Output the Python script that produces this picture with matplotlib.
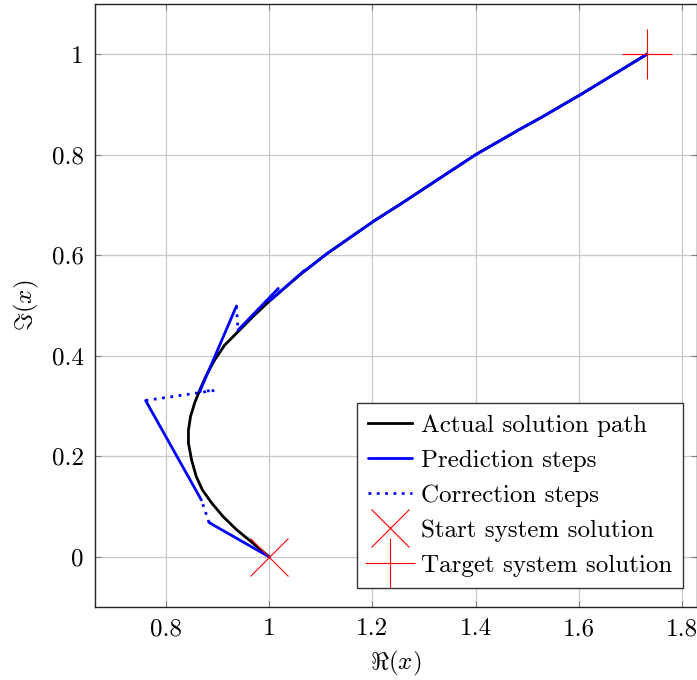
import matplotlib
matplotlib.use("Agg")
import matplotlib.pyplot as plt

plt.rcParams['font.family'] = ['cmr10', 'DejaVu Serif']
plt.rcParams['mathtext.fontset'] = 'cm'
plt.rcParams['axes.formatter.use_mathtext'] = True
plt.rcParams['font.size'] = 18

# actual solution path
path_re = [1.0, 0.969, 0.937, 0.911, 0.889, 0.871, 0.859, 0.850, 0.844, 0.844,
           0.848, 0.856, 0.866, 0.879, 0.895, 0.914, 0.940, 0.969, 1.0, 1.035,
           1.067, 1.112, 1.203, 1.255, 1.4, 1.488, 1.527, 1.604, 1.732]
path_im = [0.0, 0.027, 0.054, 0.080, 0.107, 0.133, 0.160, 0.193, 0.226, 0.252,
           0.279, 0.306, 0.332, 0.362, 0.392, 0.421, 0.448, 0.478, 0.508, 0.539,
           0.567, 0.603, 0.668, 0.702, 0.8, 0.852, 0.874, 0.920, 1.0]

# prediction steps: start point -> predicted point
pred_re0 = [1.0, 0.869, 0.866, 0.940, 1.002, 1.067, 1.112, 1.203, 1.255, 1.4, 1.488, 1.527, 1.604]
pred_im0 = [0.0, 0.113, 0.329, 0.451, 0.510, 0.567, 0.603, 0.668, 0.702, 0.8, 0.852, 0.874, 0.920]
pred_re1 = [0.884, 0.761, 0.937, 1.018, 1.069, 1.112, 1.203, 1.255, 1.4, 1.488, 1.527, 1.604, 1.732]
pred_im1 = [0.068, 0.311, 0.499, 0.534, 0.570, 0.603, 0.668, 0.702, 0.8, 0.852, 0.874, 0.920, 1.0]

# correction steps (polylines back onto the path)
corr_re = [[0.884, 0.869], [0.761, 0.895, 0.866], [0.937, 0.940],
           [1.018, 1.002], [1.069, 1.067]]
corr_im = [[0.068, 0.113], [0.311, 0.331, 0.329], [0.499, 0.451],
           [0.534, 0.510], [0.570, 0.567]]

start_pt = (1.0, 0.0)
target_pt = (1.732, 1.0)

fig = plt.figure(figsize=(6.97, 6.8), dpi=100)
ax = fig.add_axes([95 / 697, 73 / 680, 602 / 697, 603 / 680])

ax.plot(path_re, path_im, color='black', lw=2.0, label='Actual solution path', zorder=3)
for i in range(len(pred_re0)):
    ax.plot([pred_re0[i], pred_re1[i]], [pred_im0[i], pred_im1[i]], color='blue', lw=2.0,
            solid_capstyle='round', label='Prediction steps' if i == 0 else None, zorder=4)
for i in range(len(corr_re)):
    ax.plot(corr_re[i], corr_im[i], color='blue', lw=2.0, linestyle=(0, (1, 2)),
            label='Correction steps' if i == 0 else None, zorder=4)
ax.plot(*start_pt, marker='x', color='red', markersize=27, mew=0.8, linestyle='none',
        label='Start system solution', zorder=5)
ax.plot(*target_pt, marker='+', color='red', markersize=36, mew=0.8, linestyle='none',
        label='Target system solution', zorder=5)

ax.set_xlim(0.663, 1.829)
ax.set_ylim(-0.1, 1.1)
ax.set_xticks([0.8, 1, 1.2, 1.4, 1.6, 1.8])
ax.set_yticks([0, 0.2, 0.4, 0.6, 0.8, 1])
ax.set_xticklabels(['0.8', '1', '1.2', '1.4', '1.6', '1.8'])
ax.set_yticklabels(['0', '0.2', '0.4', '0.6', '0.8', '1'])
ax.grid(True, color='#c8c8c8', lw=0.9)
ax.set_axisbelow(True)
ax.tick_params(direction='in', length=4, color='#808080', top=True, right=True, pad=8)
for s in ax.spines.values():
    s.set_color('#222222')
    s.set_linewidth(1.0)

ax.set_xlabel(r'$\Re(x)$', labelpad=6)
ax.set_ylabel(r'$\Im(x)$', labelpad=8)

leg = ax.legend(loc='lower right', bbox_to_anchor=(0.977, 0.031), fancybox=False,
                edgecolor='#333333', framealpha=1, handlelength=1.75,
                labelspacing=0.5, handletextpad=0.35, borderpad=0.45, borderaxespad=0)
leg.get_frame().set_linewidth(1.0)

fig.savefig('out.png', dpi=100)
